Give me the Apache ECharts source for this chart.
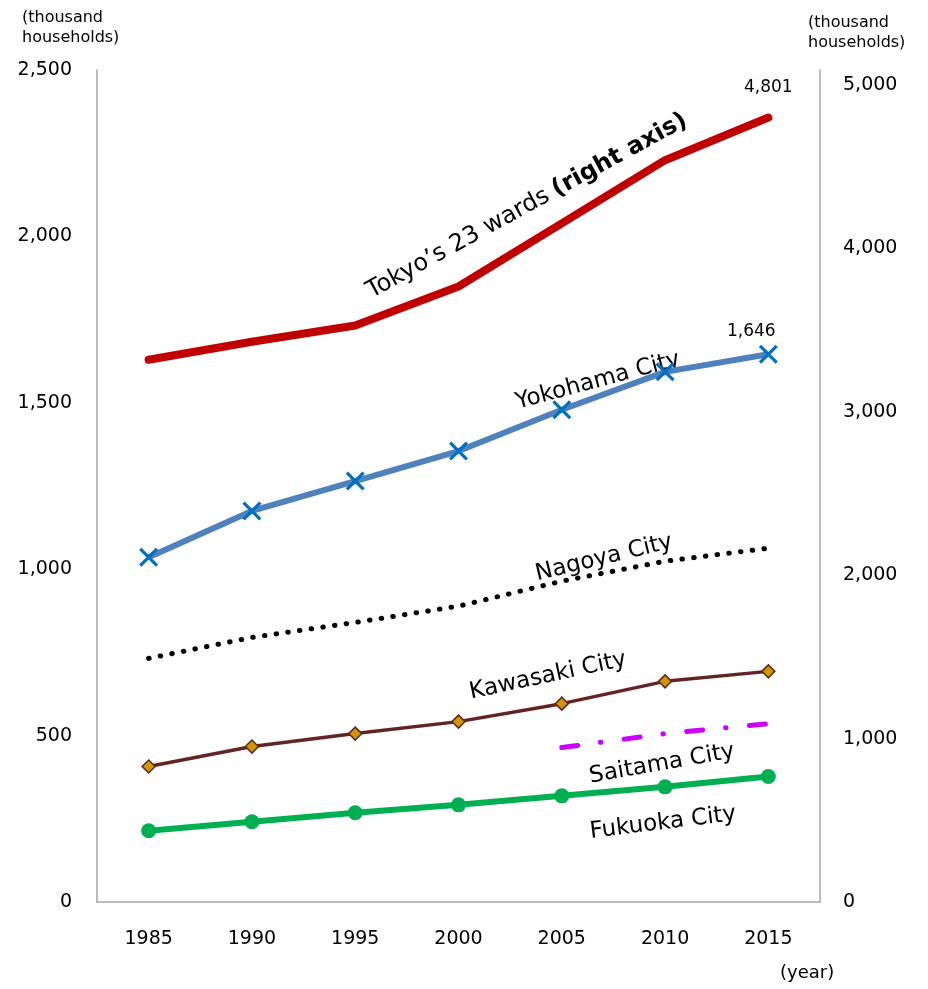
<!DOCTYPE html>
<html>
<head>
<meta charset="utf-8">
<script src="https://cdn.jsdelivr.net/npm/echarts@6/dist/echarts.min.js"></script>
<style>
html,body{margin:0;padding:0;background:#fff;}
#c{width:928px;height:989px;}
</style>
</head>
<body>
<div id="c"></div>
<script>
const years = ['1985','1990','1995','2000','2005','2010','2015'];
const tokyo23 = [3319, 3429, 3528, 3767, 4153, 4540, 4801];
const yokohama = [1036, 1175, 1265, 1355, 1479, 1593, 1646];
const nagoya = [732, 795, 840, 889, 964, 1024, 1063];
const kawasaki = [407, 467, 506, 542, 596, 663, 693];
const saitama = [null, null, null, null, 464, 506, 536];
const fukuoka = [214, 241, 268, 292, 319, 346, 377];
const leftTicks = [0, 500, 1000, 1500, 2000, 2500];
const rightTicks = [0, 1000, 2000, 3000, 4000, 5000];

const FONT = '"DejaVu Sans", "Noto Sans", sans-serif';
const fmt = v => v.toLocaleString('en-US');

function lastLabel(arr, opts, extra) {
  return arr.map((v, i) => i === arr.length - 1
    ? Object.assign({value: v, label: Object.assign({show: true, formatter: p => fmt(p.value), color: '#000', fontFamily: FONT, fontSize: 17}, opts)}, extra || {})
    : v);
}

const chart = echarts.init(document.getElementById('c'), null, {renderer: 'canvas'});
const axisLineStyle = {color: '#A6A6A6', width: 1.5};

chart.setOption({
  animation: false,
  backgroundColor: '#fff',
  grid: {left: 97, right: 108, top: 70, bottom: 87},
  xAxis: {
    type: 'category',
    data: years,
    boundaryGap: true,
    axisLine: {show: true, lineStyle: axisLineStyle},
    axisTick: {show: false},
    axisLabel: {color: '#000', fontFamily: FONT, fontSize: 19, margin: 28}
  },
  yAxis: [
    {
      type: 'value', min: 0, max: 2500, interval: 500, position: 'left',
      axisLine: {show: true, lineStyle: axisLineStyle},
      axisTick: {show: false},
      splitLine: {show: false},
      axisLabel: {color: '#000', fontFamily: FONT, fontSize: 19, margin: 25,
        formatter: v => leftTicks.includes(v) ? fmt(v) : ''}
    },
    {
      type: 'value', min: 0, max: 5092, interval: 1000, position: 'right',
      axisLine: {show: true, lineStyle: axisLineStyle},
      axisTick: {show: false},
      splitLine: {show: false},
      axisLabel: {color: '#000', fontFamily: FONT, fontSize: 19, margin: 23, showMaxLabel: false,
        formatter: v => rightTicks.includes(v) ? fmt(v) : ''}
    }
  ],
  series: [
    {
      name: "Tokyo's 23 wards", type: 'line', yAxisIndex: 1,
      data: lastLabel(tokyo23, {position: 'top', distance: 20}, {symbol: 'circle', symbolSize: 2}),
      symbol: 'none',
      showSymbol: true,
      showAllSymbol: true,
      lineStyle: {color: '#C00000', width: 8, cap: 'round', join: 'round'},
      itemStyle: {color: '#C00000'}
    },
    {
      name: 'Yokohama City', type: 'line', yAxisIndex: 0,
      data: lastLabel(yokohama, {position: 'top', distance: 5, offset: [-17, 0]}),
      symbol: 'path://M0,1.2 L1.2,0 L10,8.8 L8.8,10 Z M8.8,0 L10,1.2 L1.2,10 L0,8.8 Z',
      symbolSize: 19,
      showAllSymbol: true,
      lineStyle: {color: '#4F81BD', width: 6, join: 'round'},
      itemStyle: {color: '#0070C0'}
    },
    {
      name: 'Nagoya City', type: 'line', yAxisIndex: 0,
      data: nagoya,
      symbol: 'none',
      lineStyle: {color: '#000', width: 5, type: [0.5, 11.3], cap: 'round'},
      itemStyle: {color: '#000'}
    },
    {
      name: 'Kawasaki City', type: 'line', yAxisIndex: 0,
      data: kawasaki,
      symbol: 'diamond', symbolSize: 13,
      showAllSymbol: true,
      lineStyle: {color: '#632523', width: 3.5},
      itemStyle: {color: '#CC9900', borderColor: '#632523', borderWidth: 1.5}
    },
    {
      name: 'Saitama City', type: 'line', yAxisIndex: 0,
      data: saitama,
      symbol: 'none',
      connectNulls: false,
      lineStyle: {color: '#CC00FF', width: 5, type: [16, 23, 0.5, 23.5], cap: 'round'},
      itemStyle: {color: '#CC00FF'}
    },
    {
      name: 'Fukuoka City', type: 'line', yAxisIndex: 0,
      data: fukuoka,
      symbol: 'circle', symbolSize: 15,
      showAllSymbol: true,
      lineStyle: {color: '#00B050', width: 6},
      itemStyle: {color: '#00B050'}
    }
  ],
  graphic: [
    {type: 'text', left: 22, top: 8, style: {text: '(thousand\nhouseholds)', fill: '#000', font: '16px ' + FONT, lineHeight: 20}},
    {type: 'text', left: 808, top: 13, style: {text: '(thousand\nhouseholds)', fill: '#000', font: '16px ' + FONT, lineHeight: 20}},
    {type: 'text', left: 780, top: 964, style: {text: '(year)', fill: '#000', font: '18px ' + FONT}},
    {type: 'text', x: 527, y: 206, rotation: 28.7 * Math.PI / 180,
      style: {text: '{a|Tokyo’s 23 wards}  {b|(right axis)}', align: 'center', verticalAlign: 'middle',
        rich: {a: {fontFamily: FONT, fontSize: 24, color: '#000'}, b: {fontFamily: FONT, fontSize: 24, fontWeight: 'bold', color: '#000'}}}},
    {type: 'text', x: 598, y: 381, rotation: 15 * Math.PI / 180,
      style: {text: 'Yokohama City', align: 'center', verticalAlign: 'middle', fill: '#000', font: '23px ' + FONT}},
    {type: 'text', x: 604, y: 558, rotation: 13.5 * Math.PI / 180,
      style: {text: 'Nagoya City', align: 'center', verticalAlign: 'middle', fill: '#000', font: '23px ' + FONT}},
    {type: 'text', x: 548, y: 676, rotation: 12 * Math.PI / 180,
      style: {text: 'Kawasaki City', align: 'center', verticalAlign: 'middle', fill: '#000', font: '23px ' + FONT}},
    {type: 'text', x: 662, y: 764, rotation: 10 * Math.PI / 180,
      style: {text: 'Saitama City', align: 'center', verticalAlign: 'middle', fill: '#000', font: '23px ' + FONT}},
    {type: 'text', x: 663, y: 823, rotation: 7 * Math.PI / 180,
      style: {text: 'Fukuoka City', align: 'center', verticalAlign: 'middle', fill: '#000', font: '23px ' + FONT}}
  ]
});
</script>
</body>
</html>
